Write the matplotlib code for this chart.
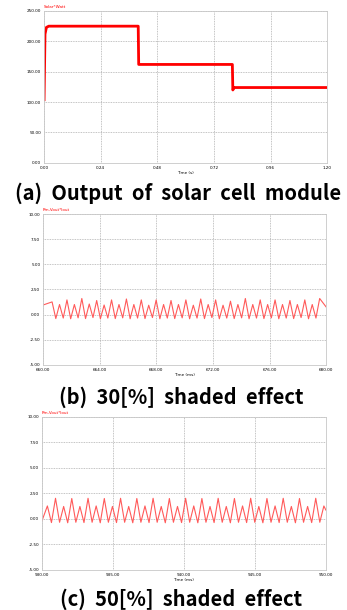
import numpy as np
import matplotlib.pyplot as plt

# (a) solar cell module output power, step levels
a_times = [0.0, 0.004, 0.010, 0.020, 0.399, 0.401, 0.798, 0.800, 0.805, 1.20]
a_power = [104, 212, 223, 225, 225, 162, 162, 120, 124, 124]
a_xticks = [0.00, 0.24, 0.48, 0.72, 0.96, 1.20]
a_yticks = [0, 50, 100, 150, 200, 250]

# (b) 30% shaded: peak / trough values
b_start, b_end = 660.0, 680.0
b_first, b_period = 660.64, 0.525
b_peaks = [1.26, 1.00, 1.46, 1.00, 1.60, 1.05, 1.40, 0.95, 1.46, 1.00, 1.55, 1.00,
           1.46, 0.93, 1.46, 1.00, 1.40, 1.00, 1.46, 0.93, 1.55, 1.00, 1.46, 0.93,
           1.33, 1.00, 1.60, 1.00, 1.46, 1.00, 1.46, 1.00, 1.40, 1.00, 1.46, 1.00, 1.60]
b_troughs = [-0.40, -0.35, -0.42, -0.33, -0.40, -0.30, -0.42, -0.35, -0.40, -0.33,
             -0.42, -0.35, -0.40, -0.30, -0.42, -0.35, -0.40, -0.33, -0.42, -0.35,
             -0.40, -0.30, -0.42, -0.35, -0.40, -0.33, -0.42, -0.35, -0.40, -0.33,
             -0.42, -0.35, -0.40, -0.30, -0.42, -0.35]
b_first_val, b_last_val = 0.95, 0.75
b_xticks = [660, 664, 668, 672, 676, 680]

# (c) 50% shaded
c_start, c_end = 930.0, 950.0
c_first, c_period = 930.38, 0.573
c_peaks = [1.25, 2.00, 1.20, 1.98, 1.20, 2.00, 1.25, 1.98, 1.20, 2.00, 1.20, 1.98,
           1.25, 2.00, 1.20, 1.98, 1.20, 2.00, 1.25, 1.98, 1.20, 2.00, 1.20, 1.98,
           1.25, 2.00, 1.20, 1.98, 1.25, 2.00, 1.20, 1.98, 1.20, 2.00, 1.25]
c_troughs = [-0.38, -0.35, -0.40, -0.35, -0.38, -0.35, -0.40, -0.35, -0.38, -0.35,
             -0.40, -0.35, -0.38, -0.35, -0.40, -0.35, -0.38, -0.35, -0.40, -0.35,
             -0.38, -0.35, -0.40, -0.35, -0.38, -0.35, -0.40, -0.35, -0.38, -0.35,
             -0.40, -0.35, -0.38, -0.35]
c_first_val, c_last_val = -0.20, 0.85
c_xticks = [930, 935, 940, 945, 950]
bc_yticks = [-5.0, -2.5, 0.0, 2.5, 5.0, 7.5, 10.0]

captions = ["(a)  Output  of  solar  cell  module",
            "(b)  30[%]  shaded  effect",
            "(c)  50[%]  shaded  effect"]


def ripple(start, end, first, period, peaks, troughs, v0, v1):
    # alternate peaks and troughs at half-period spacing
    vals = []
    for i in range(len(peaks)):
        vals.append(peaks[i])
        if i < len(troughs):
            vals.append(troughs[i])
    t = first + np.arange(len(vals)) * period / 2
    t = np.concatenate([[start], t, [end]])
    v = np.concatenate([[v0], vals, [v1]])
    return t, v


def style(ax, xticks, yticks, xlabel, name):
    ax.set_xticks(xticks)
    ax.set_yticks(yticks)
    ax.set_xticklabels(["%.2f" % v for v in xticks], fontsize=3)
    ax.set_yticklabels(["%.2f" % v for v in yticks], fontsize=3)
    ax.tick_params(length=0, pad=2)
    ax.grid(True, color="#b0b0b0", linestyle=(0, (1, 1)), linewidth=0.6)
    for s in ax.spines.values():
        s.set_color("#c8c8c8")
        s.set_linewidth(0.6)
    ax.set_xlabel(xlabel, fontsize=3, labelpad=1)
    ax.text(0.0, 1.02, name, transform=ax.transAxes, fontsize=3, color="red")


fig = plt.figure(figsize=(3.47, 6.10), dpi=100)

ax1 = fig.add_axes([0.127, 0.733, 0.816, 0.249])
ax1.plot(a_times, a_power, color="red", linewidth=2.0)
ax1.set_xlim(0, 1.2)
ax1.set_ylim(0, 250)
style(ax1, a_xticks, a_yticks, "Time (s)", "Solar*Watt")

ax2 = fig.add_axes([0.124, 0.402, 0.816, 0.247])
t, v = ripple(b_start, b_end, b_first, b_period, b_peaks, b_troughs, b_first_val, b_last_val)
ax2.plot(t, v, color="#ff5a5a", linewidth=0.8, solid_joinstyle="round")
ax2.set_xlim(b_start, b_end)
ax2.set_ylim(-5, 10)
style(ax2, b_xticks, bc_yticks, "Time (ms)", "Pm-Vout*Iout")

ax3 = fig.add_axes([0.121, 0.066, 0.818, 0.251])
t, v = ripple(c_start, c_end, c_first, c_period, c_peaks, c_troughs, c_first_val, c_last_val)
ax3.plot(t, v, color="#ff5a5a", linewidth=0.8, solid_joinstyle="round")
ax3.set_xlim(c_start, c_end)
ax3.set_ylim(-5, 10)
style(ax3, c_xticks, bc_yticks, "Time (ms)", "Pm-Vout*Iout")

for x, y, txt in zip([0.513, 0.523, 0.522], [0.684, 0.349, 0.018], captions):
    fig.text(x, y, txt, ha="center", va="center", fontsize=14.5,
             fontweight="bold", family=["Noto Sans CJK KR", "DejaVu Sans"])

fig.savefig("out.png", dpi=100)
